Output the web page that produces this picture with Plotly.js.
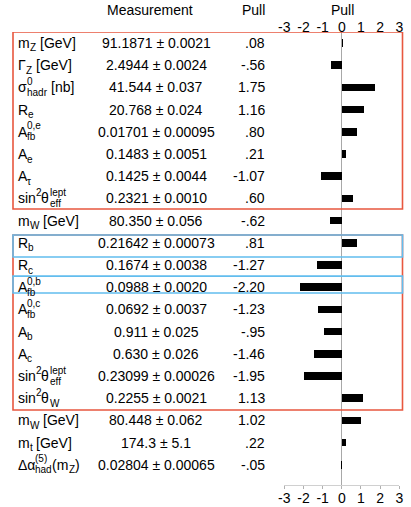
<!DOCTYPE html>
<html>
<head>
<meta charset="utf-8">
<script src="https://cdn.plot.ly/plotly-3.0.1.min.js"></script>
<style>
  html, body { margin: 0; padding: 0; background: #fff; }
  #chart { width: 411px; height: 507px; }
</style>
</head>
<body>
<div id="chart"></div>
<script>
// Quantity names, written as pieces: [base text, superscript, subscript]
// (superscript and subscript are stacked after the base text).
const quantities = [
  [["m", "", "Z"], [" [GeV]"]],
  [["Γ", "", "Z"], [" [GeV]"]],
  [["σ", "0", "hadr"], [" [nb]"]],
  [["R", "", "e"]],
  [["A", "0,e", "fb"]],
  [["A", "", "e"]],
  [["A", "", "τ"]],
  [["sin", "2", ""], ["θ", "lept", "eff"]],
  [["m", "", "W"], [" [GeV]"]],
  [["R", "", "b"]],
  [["R", "", "c"]],
  [["A", "0,b", "fb"]],
  [["A", "0,c", "fb"]],
  [["A", "", "b"]],
  [["A", "", "c"]],
  [["sin", "2", ""], ["θ", "lept", "eff"]],
  [["sin", "2", ""], ["θ", "", "W"]],
  [["m", "", "W"], [" [GeV]"]],
  [["m", "", "t"], [" [GeV]"]],
  [["Δα", "(5)", "had"], ["(m", "", "Z"], [")"]]
];

// Measured values and their uncertainties (kept as text to preserve digits)
const measuredValues = [
  "91.1871", "2.4944", "41.544", "20.768", "0.01701", "0.1483", "0.1425",
  "0.2321", "80.350", "0.21642", "0.1674", "0.0988", "0.0692", "0.911",
  "0.630", "0.23099", "0.2255", "80.448", "174.3", "0.02804"
];
const measuredErrors = [
  "0.0021", "0.0024", "0.037", "0.024", "0.00095", "0.0051", "0.0044",
  "0.0010", "0.056", "0.00073", "0.0038", "0.0020", "0.0037", "0.025",
  "0.026", "0.00026", "0.0021", "0.062", "5.1", "0.00065"
];

// Pull of each measurement with respect to the fit
const pulls = [
  0.08, -0.56, 1.75, 1.16, 0.80, 0.21, -1.07, 0.60, -0.62, 0.81,
  -1.27, -2.20, -1.23, -0.95, -1.46, -1.95, 1.13, 1.02, 0.22, -0.05
];

// Pull axis ticks
const pullTickValues = [-3, -2, -1, 0, 1, 2, 3];
const pullTickLabels = ["-3", "-2", "-1", "0", "1", "2", "3"];

const W = 411, H = 507;
const FONT = '"Liberation Sans", Arial, Helvetica, sans-serif';
const MAIN = 14, SMALL = 10;
const RED = '#e8573f', BLUE = '#62bdee';

const rows = pulls.map((_, i) => i);

const ctx = document.createElement('canvas').getContext('2d');
function textWidth(t, size) {
  ctx.font = size + 'px "Liberation Sans"';
  return ctx.measureText(t).width;
}
function fmtPull(p) {
  return p.toFixed(2).replace(/^(-?)0\./, '$1.');
}
function textAt(px, row, text, size, yshift, anchor) {
  return {
    xref: 'paper', x: px / W, yref: 'y', y: row,
    text: text, showarrow: false, xanchor: anchor, yanchor: 'middle',
    yshift: yshift, borderpad: 0, font: { size: size, color: '#000', family: FONT }
  };
}

const annotations = [];

// quantity names with stacked super/subscripts
quantities.forEach((pieces, row) => {
  let px = 16.5;
  pieces.forEach(([base, sup = '', sub = '']) => {
    let t = base;
    while (t.startsWith(' ')) { px += textWidth(' ', MAIN); t = t.slice(1); }
    if (t) {
      annotations.push(textAt(px, row, t, MAIN, 0, 'left'));
      px += textWidth(t, MAIN);
    }
    let w = 0;
    if (sup) {
      annotations.push(textAt(px + 0.5, row, sup, SMALL, 6, 'left'));
      w = Math.max(w, textWidth(sup, SMALL));
    }
    if (sub) {
      annotations.push(textAt(px + 0.5, row, sub, SMALL, -5, 'left'));
      w = Math.max(w, textWidth(sub, SMALL));
    }
    if (w) px += w + 0.5;
  });
});

// measurement column and pull column
rows.forEach(row => {
  annotations.push(textAt(156, row, measuredValues[row] + ' ± ' + measuredErrors[row], MAIN, 0, 'center'));
  annotations.push(textAt(265.5, row, fmtPull(pulls[row]), MAIN, 0, 'right'));
});

// column headers
[['Measurement', 150], ['Pull', 253], ['Pull', 342]].forEach(([t, px]) => {
  annotations.push({
    xref: 'paper', x: px / W, yref: 'paper', y: 1 - 10 / H,
    text: t, showarrow: false, xanchor: 'center', yanchor: 'middle',
    borderpad: 0, font: { size: MAIN, color: '#000', family: FONT }
  });
});

// grouping frames
function frame(y0, y1, color) {
  return {
    type: 'rect', xref: 'paper', x0: 13 / W, x1: 402.5 / W,
    yref: 'y', y0: y0, y1: y1,
    line: { color: color, width: 1.6 }, fillcolor: 'rgba(0,0,0,0)', layer: 'above'
  };
}
const shapes = [
  frame(-0.5, 7.48, RED),
  frame(8.65, 16.53, RED),
  frame(8.65, 9.64, BLUE),
  frame(10.5, 11.26, BLUE)
];

const xDomain = [284.3 / W, 399.3 / W];
const rowTop = 43, rowStep = 22.2;
const plotTop = 32, plotBottom = 485;

const data = [{
  type: 'bar', orientation: 'h',
  x: pulls, y: rows, width: 0.34,
  marker: { color: '#000', line: { width: 0 } },
  hoverinfo: 'none'
}, {
  type: 'scatter', mode: 'markers', x: [0], y: [0],
  xaxis: 'x2', marker: { opacity: 0 }, hoverinfo: 'none', showlegend: false
}];

const layout = {
  width: W, height: H,
  margin: { l: 0, r: 0, t: 0, b: 0 },
  paper_bgcolor: '#fff', plot_bgcolor: 'rgba(0,0,0,0)',
  font: { family: FONT, size: MAIN, color: '#000' },
  showlegend: false,
  xaxis: {
    domain: xDomain, range: [-3, 3], fixedrange: true,
    tickmode: 'array', tickvals: pullTickValues, ticktext: pullTickLabels,
    ticks: 'outside', ticklen: 3, tickcolor: '#b0b0b0', tickwidth: 1,
    ticklabelstandoff: -3,
    showline: true, linecolor: '#d0d0d0', linewidth: 1,
    showgrid: false, zeroline: true, zerolinecolor: '#a8a8a8', zerolinewidth: 1,
    tickfont: { size: MAIN, color: '#000' }
  },
  xaxis2: {
    overlaying: 'x', side: 'top', anchor: 'y', matches: 'x',
    range: [-3, 3], fixedrange: true,
    tickmode: 'array', tickvals: pullTickValues, ticktext: pullTickLabels,
    ticks: '', ticklabelstandoff: -4,
    showline: false, showgrid: false, zeroline: false,
    tickfont: { size: MAIN, color: '#000' }
  },
  yaxis: {
    domain: [1 - plotBottom / H, 1 - plotTop / H],
    range: [(plotBottom - rowTop) / rowStep, (plotTop - rowTop) / rowStep],
    visible: false, fixedrange: true
  },
  bargap: 0,
  annotations: annotations,
  shapes: shapes
};

Plotly.newPlot('chart', data, layout, { staticPlot: true, displayModeBar: false });
</script>
</body>
</html>
